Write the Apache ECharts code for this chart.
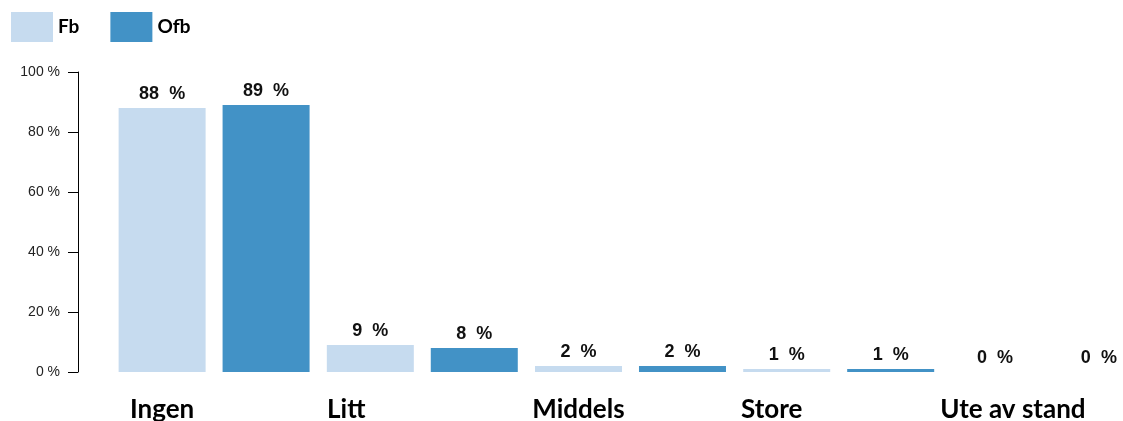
<!DOCTYPE html>
<html>
<head>
<meta charset="utf-8">
<script src="https://cdn.jsdelivr.net/npm/echarts@6/dist/echarts.min.js"></script>
<style>
  html, body { margin: 0; padding: 0; background: #fff; }
  #chart { width: 1123px; height: 421px; }
</style>
</head>
<body>
<div id="chart"></div>
<script>
// data
var categories = ['Ingen', 'Litt', 'Middels', 'Store', 'Ute av stand'];
var fbValues = [88, 9, 2, 1, 0];
var ofbValues = [89, 8, 2, 1, 0];
var yTicks = [0, 20, 40, 60, 80, 100];

// labels under the axis are not centred on the groups, shift them left (px)
var labelShift = [52, 76, 52, 67, 34];

var rich = {};
labelShift.forEach(function (s, i) {
  rich['c' + i] = {
    fontFamily: 'Lato',
    fontWeight: 'bold',
    fontSize: 26,
    color: '#000',
    padding: [0, s * 2, 0, 0]
  };
});

var chart = echarts.init(document.getElementById('chart'));

var barLabel = {
  show: true,
  position: 'top',
  distance: 5,
  formatter: '{c}  %',
  fontFamily: 'Liberation Sans',
  fontWeight: 'bold',
  fontSize: 18,
  color: '#111'
};

chart.setOption({
  animation: false,
  backgroundColor: '#fff',
  legend: {
    left: 11,
    top: 12,
    padding: 0,
    icon: 'rect',
    itemWidth: 42,
    itemHeight: 30,
    itemGap: 31,
    textStyle: {
      fontFamily: 'Lato',
      fontWeight: 'bold',
      fontSize: 19,
      color: '#000'
    },
    data: ['Fb', 'Ofb']
  },
  grid: {
    left: 110,
    right: -28,
    top: 72,
    bottom: 49,
    outerBoundsMode: 'none'
  },
  xAxis: {
    type: 'category',
    data: categories,
    axisLine: { show: false },
    axisTick: { show: false },
    axisLabel: {
      margin: 25,
      interval: 0,
      formatter: function (v) {
        var i = categories.indexOf(v);
        return '{c' + i + '|' + v + '}';
      },
      rich: rich
    }
  },
  yAxis: {
    type: 'value',
    min: yTicks[0],
    max: yTicks[yTicks.length - 1],
    interval: 20,
    offset: 32,
    axisLine: { show: true, lineStyle: { color: '#000', width: 1 } },
    axisTick: { show: true, length: 10, lineStyle: { color: '#000' } },
    splitLine: { show: false },
    axisLabel: {
      margin: 18,
      formatter: '{value} %',
      fontFamily: 'Liberation Sans',
      fontSize: 14,
      color: '#222'
    }
  },
  series: [
    {
      name: 'Fb',
      type: 'bar',
      data: fbValues,
      barWidth: 87,
      barGap: '19.5%',
      itemStyle: { color: '#c6dbef' },
      label: barLabel
    },
    {
      name: 'Ofb',
      type: 'bar',
      data: ofbValues,
      barWidth: 87,
      itemStyle: { color: '#4292c6' },
      label: barLabel
    }
  ]
});
</script>
</body>
</html>
